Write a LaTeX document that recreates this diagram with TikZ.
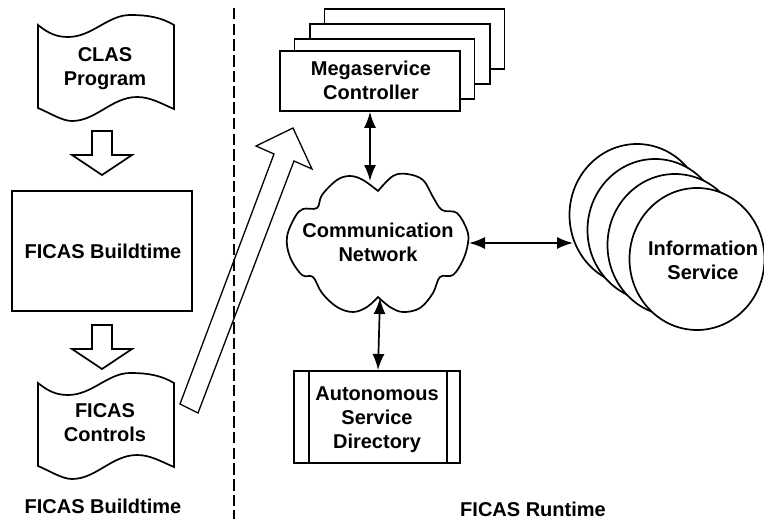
\documentclass[tikz,border=0pt]{standalone}
\usepackage{fontspec}
\setmainfont{Liberation Sans}
\usepackage{tikz}
\usetikzlibrary{arrows.meta,shapes.geometric}
\tikzset{>={Latex[width=12pt,length=16pt]}}
\tikzset{
  caption/.style={font=\fontsize{20}{24}\selectfont\bfseries,align=center},
  frame/.style={draw,line width=1.7pt,fill=white,line join=miter},
  link/.style={<->,line width=1.7pt},
  service/.style={frame,ellipse,inner sep=0pt,minimum width=135pt,minimum height=142pt},
  stackbox/.style={frame,inner sep=0pt,minimum width=180pt,minimum height=60pt}
}

\begin{document}
\begin{tikzpicture}[x=1pt,y=-1pt]

  \newcommand\docshape[1]{
    \draw[frame,shift={(0,#1)}] (38,25) .. controls (48,33) and (56,37) .. (68,37)
      .. controls (92,37) and (108,15) .. (130,15) .. controls (150,15) and (162,18) .. (174,25)
      -- (174,109) .. controls (160,103) and (150,97) .. (137,97)
      .. controls (112,97) and (96,121) .. (72,121) .. controls (62,121) and (50,113) .. (38,108) -- cycle;
  }
  \newcommand\blockdown[1]{
    \draw[frame,shift={(0,#1)}] (92,131) -- (112,131) -- (112,155) -- (132,155)
      -- (102,175) -- (72,155) -- (92,155) -- cycle;
  }

  \useasboundingbox (0,0) rectangle (764,519);

  % left side
  \docshape{0}
  \node[caption] (clas) at (105,69) {CLAS\\Program};
  \blockdown{0}
  \node[frame,minimum width=180pt,minimum height=120pt,inner sep=0pt] (build) at (102,251) {};
  \node[caption] (buildtext) at (103,251) {FICAS Buildtime};
  \blockdown{194}
  \docshape{358}
  \node[caption] (controls) at (105,423) {FICAS\\Controls};
  \node[caption] (leftlabel) at (103,506) {FICAS Buildtime};

  % separator
  \coordinate (septop) at (234,8);
  \coordinate (sepbot) at (234,519);
  \draw[line width=1.7pt,dash pattern=on 11.5pt off 4.2pt] (septop) -- (sepbot);

  % deploy arrow
  \draw[line width=1.3pt] (180,404) -- (274,154) -- (256,146) -- (293,128)
    -- (312,169) -- (294,161) -- (198,413) -- cycle;

  % controller stack
  \node[stackbox] (stack3) at (414.5,39) {};
  \node[stackbox] (stack2) at (400,54) {};
  \node[stackbox] (stack1) at (384.5,69) {};
  \node[stackbox] (ctrl) at (370,81) {};
  \node[caption] (ctrltext) at (371,80) {Megaservice\\Controller};

  % cloud
  \draw[frame] plot[smooth,tension=.6] coordinates {(378,191) (393,176) (407,174) (423,180) (433,197) (442,210)
      (457,213) (467,230) (468,243) (463,260) (453,275) (440,277) (433,293) (420,308) (403,312)
      (390,307) (378,297)}
    -- plot[smooth,tension=.6] coordinates {(378,297) (367,307) (353,312) (337,307) (322,293) (313,277)
      (302,275) (290,257) (287,237) (295,217) (303,209) (317,208) (322,195) (337,180) (350,176)
      (363,180) (378,191)} -- cycle;
  \node[caption] (net) at (378,242) {Communication\\Network};
  \coordinate (nettop) at (370,181);
  \coordinate (neteast) at (469,243);
  \coordinate (netbot) at (380,298);

  % services
  \node[service] (info1) at (637,215) {};
  \node[service] (info2) at (655,230) {};
  \node[service] (info3) at (675,245) {};
  \node[service] (info4) at (697,259) {};
  \node[caption] (infotext) at (703,260) {Information\\Service};
  \coordinate (infowest) at (573,243);

  % directory
  \node[frame,minimum width=166pt,minimum height=92pt,inner sep=0pt] (dir) at (377,417) {};
  \draw[line width=1.7pt] (dir.north west) ++(16,0) -- ++(0,92);
  \draw[line width=1.7pt] (dir.north east) ++(-14,0) -- ++(0,92);
  \node[caption] (dirtext) at (377,420) {Autonomous\\Service\\Directory};
  \coordinate (dirtop) at (378,370);

  \node[caption] (rightlabel) at (533,509) {FICAS Runtime};

  \draw[link] (ctrl.south) -- (nettop);
  \draw[link] (neteast) -- (infowest);
  \draw[link] (netbot) -- (dirtop);

\end{tikzpicture}
\end{document}
